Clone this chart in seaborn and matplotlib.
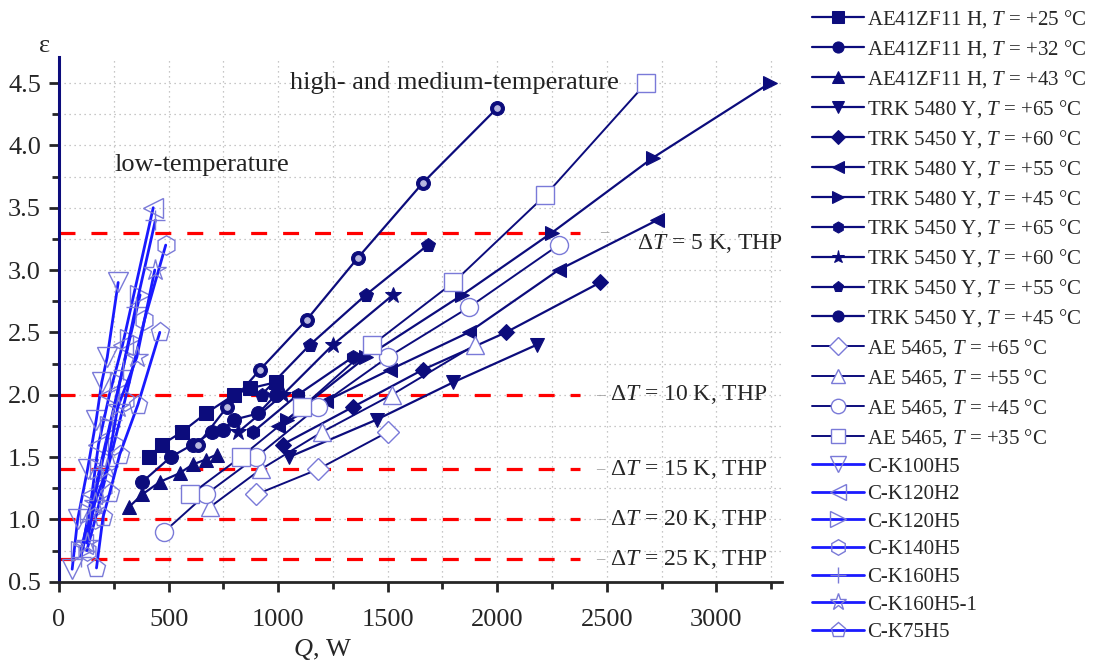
import numpy as np
import pandas as pd
import matplotlib
matplotlib.use("Agg")
import matplotlib.pyplot as plt
import seaborn as sns
from matplotlib.ticker import MultipleLocator, FormatStrFormatter

# ---- datos (Q en W, epsilon) ----
ae41_25_q = [410, 470, 560, 670, 800, 870, 990]
ae41_25_e = [1.5, 1.6, 1.7, 1.85, 2.0, 2.05, 2.1]
ae41_32_q = [380, 510, 610, 700, 750, 800, 910, 990]
ae41_32_e = [1.3, 1.5, 1.6, 1.7, 1.72, 1.8, 1.85, 2.0]
ae41_43_q = [320, 380, 460, 550, 610, 670, 720]
ae41_43_e = [1.1, 1.2, 1.3, 1.37, 1.44, 1.48, 1.52]

trk5480_65_q = [1050, 1450, 1800, 2180]
trk5480_65_e = [1.5, 1.8, 2.1, 2.4]
trk5450_60d_q = [1020, 1340, 1660, 2040, 2470]
trk5450_60d_e = [1.6, 1.9, 2.2, 2.5, 2.9]
trk5480_55_q = [1000, 1220, 1510, 1870, 2280, 2730]
trk5480_55_e = [1.75, 1.95, 2.2, 2.5, 3.0, 3.4]
trk5480_45_q = [1040, 1400, 1840, 2250, 2710, 3245]
trk5480_45_e = [1.8, 2.3, 2.8, 3.3, 3.9, 4.5]
trk5450_65_q = [885, 1090, 1340]
trk5450_65_e = [1.7, 2.0, 2.3]
trk5450_60s_q = [818, 1022, 1250, 1524]
trk5450_60s_e = [1.7, 2.0, 2.4, 2.8]
trk5450_55_q = [925, 1145, 1400, 1683]
trk5450_55_e = [2.0, 2.4, 2.8, 3.2]
trk5450_45_q = [634, 766, 917, 1130, 1365, 1661, 2000]
trk5450_45_e = [1.6, 1.9, 2.2, 2.6, 3.1, 3.7, 4.3]

ae5465_65_q = [900, 1180, 1500]
ae5465_65_e = [1.2, 1.4, 1.7]
ae5465_55_q = [690, 920, 1200, 1520, 1900]
ae5465_55_e = [1.1, 1.4, 1.7, 2.0, 2.4]
ae5465_45_q = [480, 670, 900, 1180, 1500, 1870, 2280]
ae5465_45_e = [0.9, 1.2, 1.5, 1.9, 2.3, 2.7, 3.2]
ae5465_35_q = [600, 830, 1110, 1430, 1800, 2220, 2680]
ae5465_35_e = [1.2, 1.5, 1.9, 2.4, 2.9, 3.6, 4.5]

ck100h5_q = [60, 85, 130, 170, 195, 220, 270]
ck100h5_e = [0.6, 1.0, 1.4, 1.8, 2.1, 2.3, 2.9]
ck120h2_q = [110, 150, 180, 230, 290, 430]
ck120h2_e = [0.8, 1.2, 1.6, 2.0, 2.4, 3.5]
ck120h5_q = [100, 140, 185, 231, 277, 323, 370]
ck120h5_e = [0.75, 1.05, 1.4, 1.75, 2.1, 2.45, 2.8]
ck140h5_q = [127, 165, 200, 250, 300, 390, 487]
ck140h5_e = [0.75, 1.0, 1.25, 1.6, 1.95, 2.6, 3.2]
ck160h5_q = [100, 140, 190, 240, 290, 350, 440]
ck160h5_e = [0.7, 1.0, 1.4, 1.8, 2.2, 2.7, 3.4]
ck160h51_q = [127, 163, 218, 268, 355, 437]
ck160h51_e = [0.81, 1.13, 1.4, 1.9, 2.3, 3.0]
ck75h5_q = [171, 201, 231, 277, 360, 460]
ck75h5_e = [0.61, 1.02, 1.21, 1.52, 1.92, 2.5]

# lineas de referencia (Delta T, THP)
thp_eps = [3.3, 2.0, 1.4, 1.0, 0.68]
thp_txt = ["5", "10", "15", "20", "25"]
thp_q = [0, 2380]

# ---- estilo ----
sns.set_style("ticks")
plt.rcParams['font.family'] = ['Liberation Serif', 'DejaVu Serif']
plt.rcParams['mathtext.fontset'] = 'custom'
plt.rcParams['mathtext.rm'] = 'Liberation Serif'
plt.rcParams['mathtext.it'] = 'Liberation Serif:italic'

navy = '#0c0c7c'
azul = '#1a1aff'
borde = '#7a7ad8'

fig = plt.figure(figsize=(10.93, 6.61), dpi=100)
ax = fig.add_axes([0.054, 0.12, 0.6615, 0.794])

# lineas rojas discontinuas
for e in thp_eps:
    sns.lineplot(x=thp_q, y=[e, e], ax=ax, color='red', lw=2.3,
                 dashes=(5, 5), zorder=2)

series = [
    (ae41_25_q, ae41_25_e, 's', 'AE41ZF11 H, $T$ = +25 °C', 'n'),
    (ae41_32_q, ae41_32_e, 'o', 'AE41ZF11 H, $T$ = +32 °C', 'n'),
    (ae41_43_q, ae41_43_e, '^', 'AE41ZF11 H, $T$ = +43 °C', 'n'),
    (trk5480_65_q, trk5480_65_e, 'v', 'TRK 5480 Y, $T$ = +65 °C', 'n'),
    (trk5450_60d_q, trk5450_60d_e, 'D', 'TRK 5450 Y, $T$ = +60 °C', 'n'),
    (trk5480_55_q, trk5480_55_e, '<', 'TRK 5480 Y, $T$ = +55 °C', 'n'),
    (trk5480_45_q, trk5480_45_e, '>', 'TRK 5480 Y, $T$ = +45 °C', 'n'),
    (trk5450_65_q, trk5450_65_e, 'h', 'TRK 5450 Y, $T$ = +65 °C', 'n'),
    (trk5450_60s_q, trk5450_60s_e, '*', 'TRK 5450 Y, $T$ = +60 °C', 'n'),
    (trk5450_55_q, trk5450_55_e, 'p', 'TRK 5450 Y, $T$ = +55 °C', 'n'),
    (trk5450_45_q, trk5450_45_e, 'o', 'TRK 5450 Y, $T$ = +45 °C', 'b'),
    (ae5465_65_q, ae5465_65_e, 'D', 'AE 5465, $T$ = +65 °C', 'a'),
    (ae5465_55_q, ae5465_55_e, '^', 'AE 5465, $T$ = +55 °C', 'a'),
    (ae5465_45_q, ae5465_45_e, 'o', 'AE 5465, $T$ = +45 °C', 'a'),
    (ae5465_35_q, ae5465_35_e, 's', 'AE 5465, $T$ = +35 °C', 'a'),
    (ck100h5_q, ck100h5_e, 'v', 'C-K100H5', 'c'),
    (ck120h2_q, ck120h2_e, '<', 'C-K120H2', 'c'),
    (ck120h5_q, ck120h5_e, '>', 'C-K120H5', 'c'),
    (ck140h5_q, ck140h5_e, 'h', 'C-K140H5', 'c'),
    (ck160h5_q, ck160h5_e, '+', 'C-K160H5', 'c'),
    (ck160h51_q, ck160h51_e, '*', 'C-K160H5-1', 'c'),
    (ck75h5_q, ck75h5_e, 'p', 'C-K75H5', 'c'),
]

handles = []
for q, e, m, lab, tipo in series:
    ms = 10 if m not in ('*', 'D') else (12 if m == '*' else 8.5)
    if tipo in ('n', 'b'):
        kw = dict(color=navy, lw=1.6, mfc=navy, mec=navy, markersize=ms)
    elif tipo == 'a':
        kw = dict(color=navy, lw=1.4, mfc='white', mec=borde,
                  markersize=ms + 3, markeredgewidth=1.0)
    else:
        kw = dict(color=azul, lw=2.0, mfc='none', mec=borde,
                  markersize=ms + 4, markeredgewidth=1.0)
    sns.lineplot(x=q, y=e, ax=ax, marker=m, sort=False, zorder=3,
                 clip_on=False, **kw)
    handles.append((ax.lines[-1], lab))
    if tipo == 'b':
        # brillo de la esfera
        sns.lineplot(x=q, y=e, ax=ax, marker='o', sort=False, lw=0,
                     markersize=4, mfc='#b8b8e0', mec='#b8b8e0', zorder=4)

# textos
ax.text(254, 3.84, 'low-temperature', fontsize=19, va='center',
        color='#222222')
ax.text(1053, 4.5, 'high- and medium-temperature', fontsize=19,
        va='center', color='#222222')
for e, t in zip(thp_eps, thp_txt):
    dx = 2470 if t == '5' else 2450
    ax.text(dx, e, '–', color='#999999', fontsize=12, va='center',
            clip_on=False)
    tx = 2640 if t == '5' else 2515
    ty = e - 0.09 if t == '5' else e
    ax.text(tx, ty, 'Δ$T$ = ' + t + ' K, THP', fontsize=17, va='center',
            clip_on=False)

# ejes
ax.set_xlim(0, 3300)
ax.set_ylim(0.5, 4.71)
ax.xaxis.set_major_locator(MultipleLocator(500))
ax.xaxis.set_minor_locator(MultipleLocator(250))
ax.yaxis.set_major_locator(MultipleLocator(0.5))
ax.yaxis.set_minor_locator(MultipleLocator(0.25))
ax.yaxis.set_major_formatter(FormatStrFormatter('%.1f'))
ax.grid(which='both', color='#b5b5b5', ls=(0, (1, 3)), lw=0.9)
ax.set_axisbelow(True)
sns.despine(ax=ax)
ax.spines['left'].set_color(navy)
ax.spines['left'].set_linewidth(2.2)
ax.spines['bottom'].set_linewidth(2.0)
ax.tick_params(which='major', length=7, width=2, labelsize=19,
               direction='out', pad=6)
ax.tick_params(axis='x', which='major', pad=13)
ax.tick_params(which='minor', length=5, width=2, direction='out')
ax.set_xlabel('')
ax.set_ylabel('')
fig.text(0.041, 0.93, 'ε', fontsize=19, ha='center', va='center')
fig.text(0.295, 0.017, '$Q$, W', fontsize=19, ha='center', va='center')

leg = ax.legend([h for h, _ in handles], [l for _, l in handles],
                loc='upper left', bbox_to_anchor=(0.741, 0.991),
                bbox_transform=fig.transFigure, frameon=False,
                fontsize=15, borderpad=0.1, borderaxespad=0,
                handlelength=2.5, handletextpad=0.15, labelspacing=0.385,
                markerscale=0.8)

fig.savefig('out.png', dpi=100)
